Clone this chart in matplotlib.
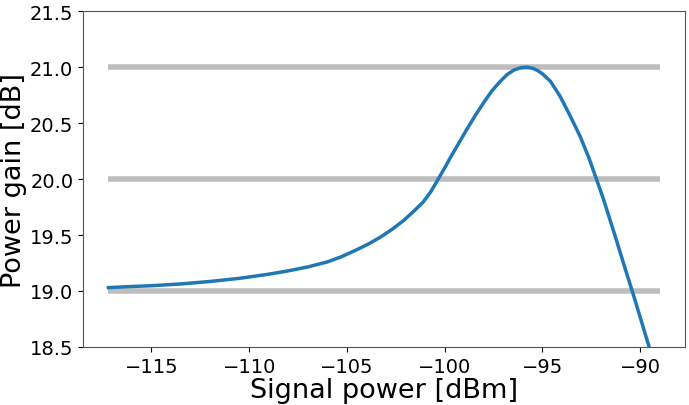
import matplotlib; matplotlib.use("Agg")
import matplotlib.pyplot as plt

# values
signal_dbm = [-117.2, -116.0, -115.0, -113.5, -112.0, -110.5, -109.0, -108.0, -107.0,
              -106.0, -105.3, -104.6, -103.9, -103.3, -102.7, -102.1, -101.6, -101.1,
              -100.7, -100.4, -100.0, -99.7, -99.3, -98.9, -98.45, -98.0, -97.6, -97.15,
              -96.8, -96.45, -96.1, -95.8, -95.5, -95.25, -95.0, -94.6, -94.1, -93.6,
              -93.07, -92.65, -92.22, -91.88, -91.3, -90.7, -90.34, -89.58, -89.4]
gain_db = [19.03, 19.04, 19.047, 19.063, 19.085, 19.113, 19.15, 19.18, 19.215,
           19.26, 19.305, 19.36, 19.42, 19.48, 19.55, 19.63, 19.71, 19.795,
           19.89, 19.98, 20.10, 20.195, 20.315, 20.435, 20.565, 20.685, 20.785, 20.875,
           20.935, 20.975, 20.995, 21.0, 20.99, 20.97, 20.94, 20.875, 20.74, 20.57,
           20.38, 20.2, 19.99, 19.82, 19.5, 19.16, 18.96, 18.52, 18.41]
ref_levels = [19.0, 20.0, 21.0]
ref_span = (-117.2, -89.0)

fig = plt.figure(figsize=(6.89, 4.06), dpi=100)
ax = fig.add_axes([0.1205, 0.143, 0.874, 0.827])
ax.hlines(ref_levels, *ref_span, color="#bdbdbd", lw=4)
ax.plot(signal_dbm, gain_db, color="#1f77b4", lw=2.5)
ax.set_xlim(-118.5, -87.7); ax.set_ylim(18.5, 21.5)
ax.set_xticks([-115, -110, -105, -100, -95, -90])
ax.set_yticks([18.5, 19.0, 19.5, 20.0, 20.5, 21.0, 21.5])
ax.tick_params(labelsize=14)
ax.set_xlabel("Signal power [dBm]", fontsize=19.5, labelpad=1)
ax.set_ylabel("Power gain [dB]", fontsize=19.5, labelpad=2)
for s in ax.spines.values(): s.set_color("#555555")
fig.savefig("out.png", dpi=100)
